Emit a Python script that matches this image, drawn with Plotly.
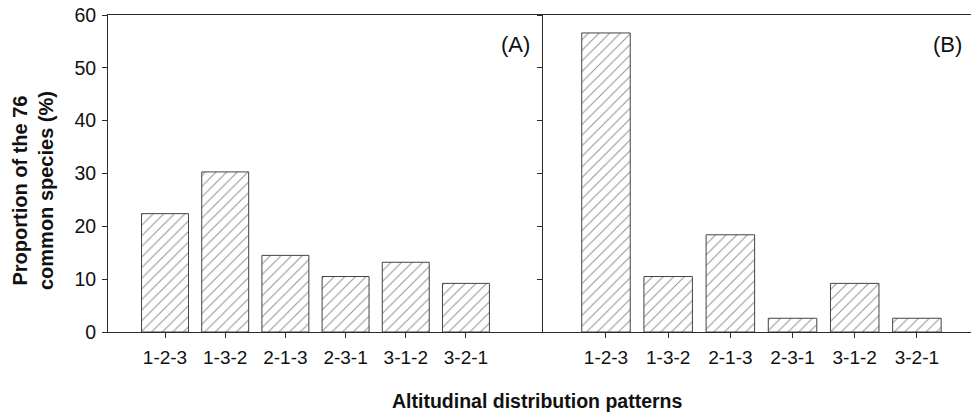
import plotly.graph_objects as go

patterns = ["1-2-3", "1-3-2", "2-1-3", "2-3-1", "3-1-2", "3-2-1"]
panel_a = [22.4, 30.3, 14.5, 10.5, 13.2, 9.2]
panel_b = [56.6, 10.5, 18.4, 2.6, 9.2, 2.6]
y_ticks = [0, 10, 20, 30, 40, 50, 60]

W, H = 971, 416
L, R, T, B = 108, 0, 15, 84
plot_w = W - L - R
split = (543 - L) / plot_w

FONT = "Liberation Sans, Arial, sans-serif"
LINE = "#2b2b2b"

bar_style = dict(
    width=0.78,
    marker=dict(
        color="white",
        line=dict(color="#444444", width=1),
        pattern=dict(shape="/", fgcolor="#222222", bgcolor="white", size=7.5, solidity=0.13),
    ),
    showlegend=False,
)

fig = go.Figure()
fig.add_trace(go.Bar(x=patterns, y=panel_a, xaxis="x", yaxis="y", **bar_style))
fig.add_trace(go.Bar(x=patterns, y=panel_b, xaxis="x2", yaxis="y2", **bar_style))

xcommon = dict(
    type="category",
    showline=True, linecolor=LINE, linewidth=1, mirror=True,
    ticks="outside", ticklen=5, tickcolor=LINE, tickwidth=1,
    tickfont=dict(family=FONT, size=19, color="#111"),
    ticklabelstandoff=3,
    showgrid=False, zeroline=False, fixedrange=True,
)
ycommon = dict(
    range=[0, 60], tickvals=y_ticks,
    showline=True, linecolor=LINE, linewidth=1,
    ticks="outside", ticklen=5, tickcolor=LINE, tickwidth=1,
    showgrid=False, zeroline=False, fixedrange=True,
)

fig.update_layout(
    width=W, height=H,
    margin=dict(l=L, r=R, t=T, b=B, pad=0),
    paper_bgcolor="white", plot_bgcolor="white",
    bargap=0.2,
    xaxis=dict(domain=[0, split], range=[-0.947, 6.28], anchor="y", **xcommon),
    xaxis2=dict(domain=[split, 1], range=[-1.013, 5.87], anchor="y2", **xcommon),
    yaxis=dict(anchor="x", tickfont=dict(family=FONT, size=19.5, color="#111"),
               ticklabelstandoff=2, **ycommon),
    yaxis2=dict(anchor="x2", showticklabels=False, **ycommon),
    font=dict(family=FONT, color="#111"),
)

def px_x(p):
    return (p - L) / plot_w

def px_y(p):
    return (H - B - p) / (H - B - T)

fig.add_annotation(
    text="<b>Proportion of the 76<br>common species (%)</b>",
    xref="paper", yref="paper", x=px_x(33), y=px_y(191),
    showarrow=False, textangle=-90, xanchor="center", yanchor="middle",
    font=dict(family=FONT, size=20, color="#111"),
)
fig.add_annotation(
    text="<b>Altitudinal distribution patterns</b>",
    xref="paper", yref="paper", x=px_x(537), y=px_y(401),
    showarrow=False, xanchor="center", yanchor="middle",
    font=dict(family=FONT, size=19.5, color="#111"),
)
fig.add_annotation(
    text="(A)", xref="paper", yref="paper", x=px_x(515), y=px_y(45),
    showarrow=False, xanchor="center", yanchor="middle",
    font=dict(family=FONT, size=22, color="#111"),
)
fig.add_annotation(
    text="(B)", xref="paper", yref="paper", x=px_x(947), y=px_y(45),
    showarrow=False, xanchor="center", yanchor="middle",
    font=dict(family=FONT, size=22, color="#111"),
)

fig.write_html(
    "out.html",
    config={"displayModeBar": False, "staticPlot": True},
    post_script="document.body.style.margin='0px';document.body.style.padding='0px';document.body.style.overflow='hidden';",
)
